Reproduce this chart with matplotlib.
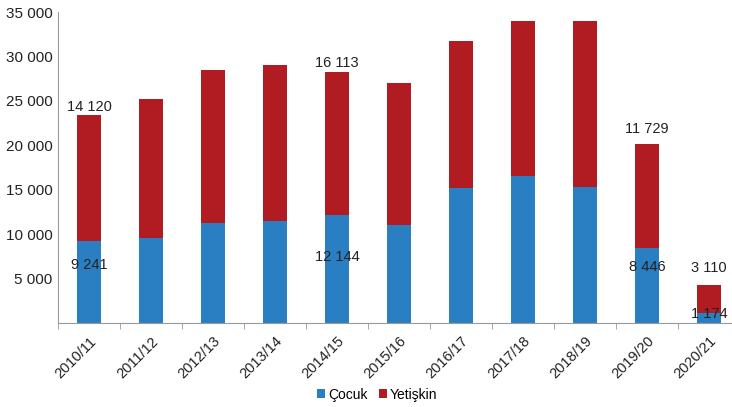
import matplotlib
matplotlib.use("Agg")
import matplotlib.pyplot as plt
from matplotlib.ticker import FuncFormatter

plt.rcParams["font.family"] = ["Liberation Sans", "DejaVu Sans"]

seasons = ["2010/11", "2011/12", "2012/13", "2013/14", "2014/15", "2015/16",
           "2016/17", "2017/18", "2018/19", "2019/20", "2020/21"]
cocuk = [9241, 9600, 11250, 11510, 12144, 11060, 15200, 16510, 15310, 8446, 1174]
yetiskin = [14120, 15650, 17230, 17490, 16113, 15910, 16550, 17430, 18630, 11729, 3110]

# which bars carry value labels, and where the label sits (data y)
label_idx = [0, 4, 9, 10]
cocuk_label_y = [6550, 7450, 6320, 1020]
yetiskin_label_y = [24270, 29230, 21780, 6200]

BLUE = "#2a7fc2"
RED = "#b01c22"

fig = plt.figure(figsize=(7.32, 4.07), dpi=100)
ax = fig.add_axes([0.0792, 0.2064, 0.932, 0.7641])

x = list(range(len(seasons)))
ax.bar(x, cocuk, width=0.39, color=BLUE, label="Çocuk")
ax.bar(x, yetiskin, width=0.39, bottom=cocuk, color=RED, label="Yetişkin")

fmt = lambda v: f"{v:,.0f}".replace(",", " ")
for i, yc, yy in zip(label_idx, cocuk_label_y, yetiskin_label_y):
    ax.text(i, yc, fmt(cocuk[i]), ha="center", va="center", fontsize=10.5, color="#222222")
    ax.text(i, yy, fmt(yetiskin[i]), ha="center", va="center", fontsize=10.5, color="#222222")

ax.set_xlim(-0.5, len(seasons) - 0.5)
ax.set_ylim(0, 35000)
ax.set_yticks(range(5000, 35001, 5000))
ax.yaxis.set_major_formatter(FuncFormatter(lambda v, p: fmt(v)))
ax.tick_params(axis="y", length=0, labelsize=11, labelcolor="#222222", pad=4)

ax.set_xticks(x)
ax.set_xticklabels(seasons, rotation=45, ha="right", rotation_mode="anchor",
                   fontsize=10.5, color="#222222")
ax.set_xticks([i - 0.5 for i in x] + [len(seasons) - 0.5], minor=True)
ax.tick_params(axis="x", which="major", length=0, pad=8)
ax.tick_params(axis="x", which="minor", length=4, color="#999999")

for s in ["top", "right"]:
    ax.spines[s].set_visible(False)
for s in ["left", "bottom"]:
    ax.spines[s].set_color("#999999")

fig.legend(loc="center", bbox_to_anchor=(0.515, 0.03), ncol=2, frameon=False,
           fontsize=10, handlelength=0.6, handleheight=0.6, handletextpad=0.2,
           columnspacing=0.8)

fig.savefig("out.png", dpi=100)
